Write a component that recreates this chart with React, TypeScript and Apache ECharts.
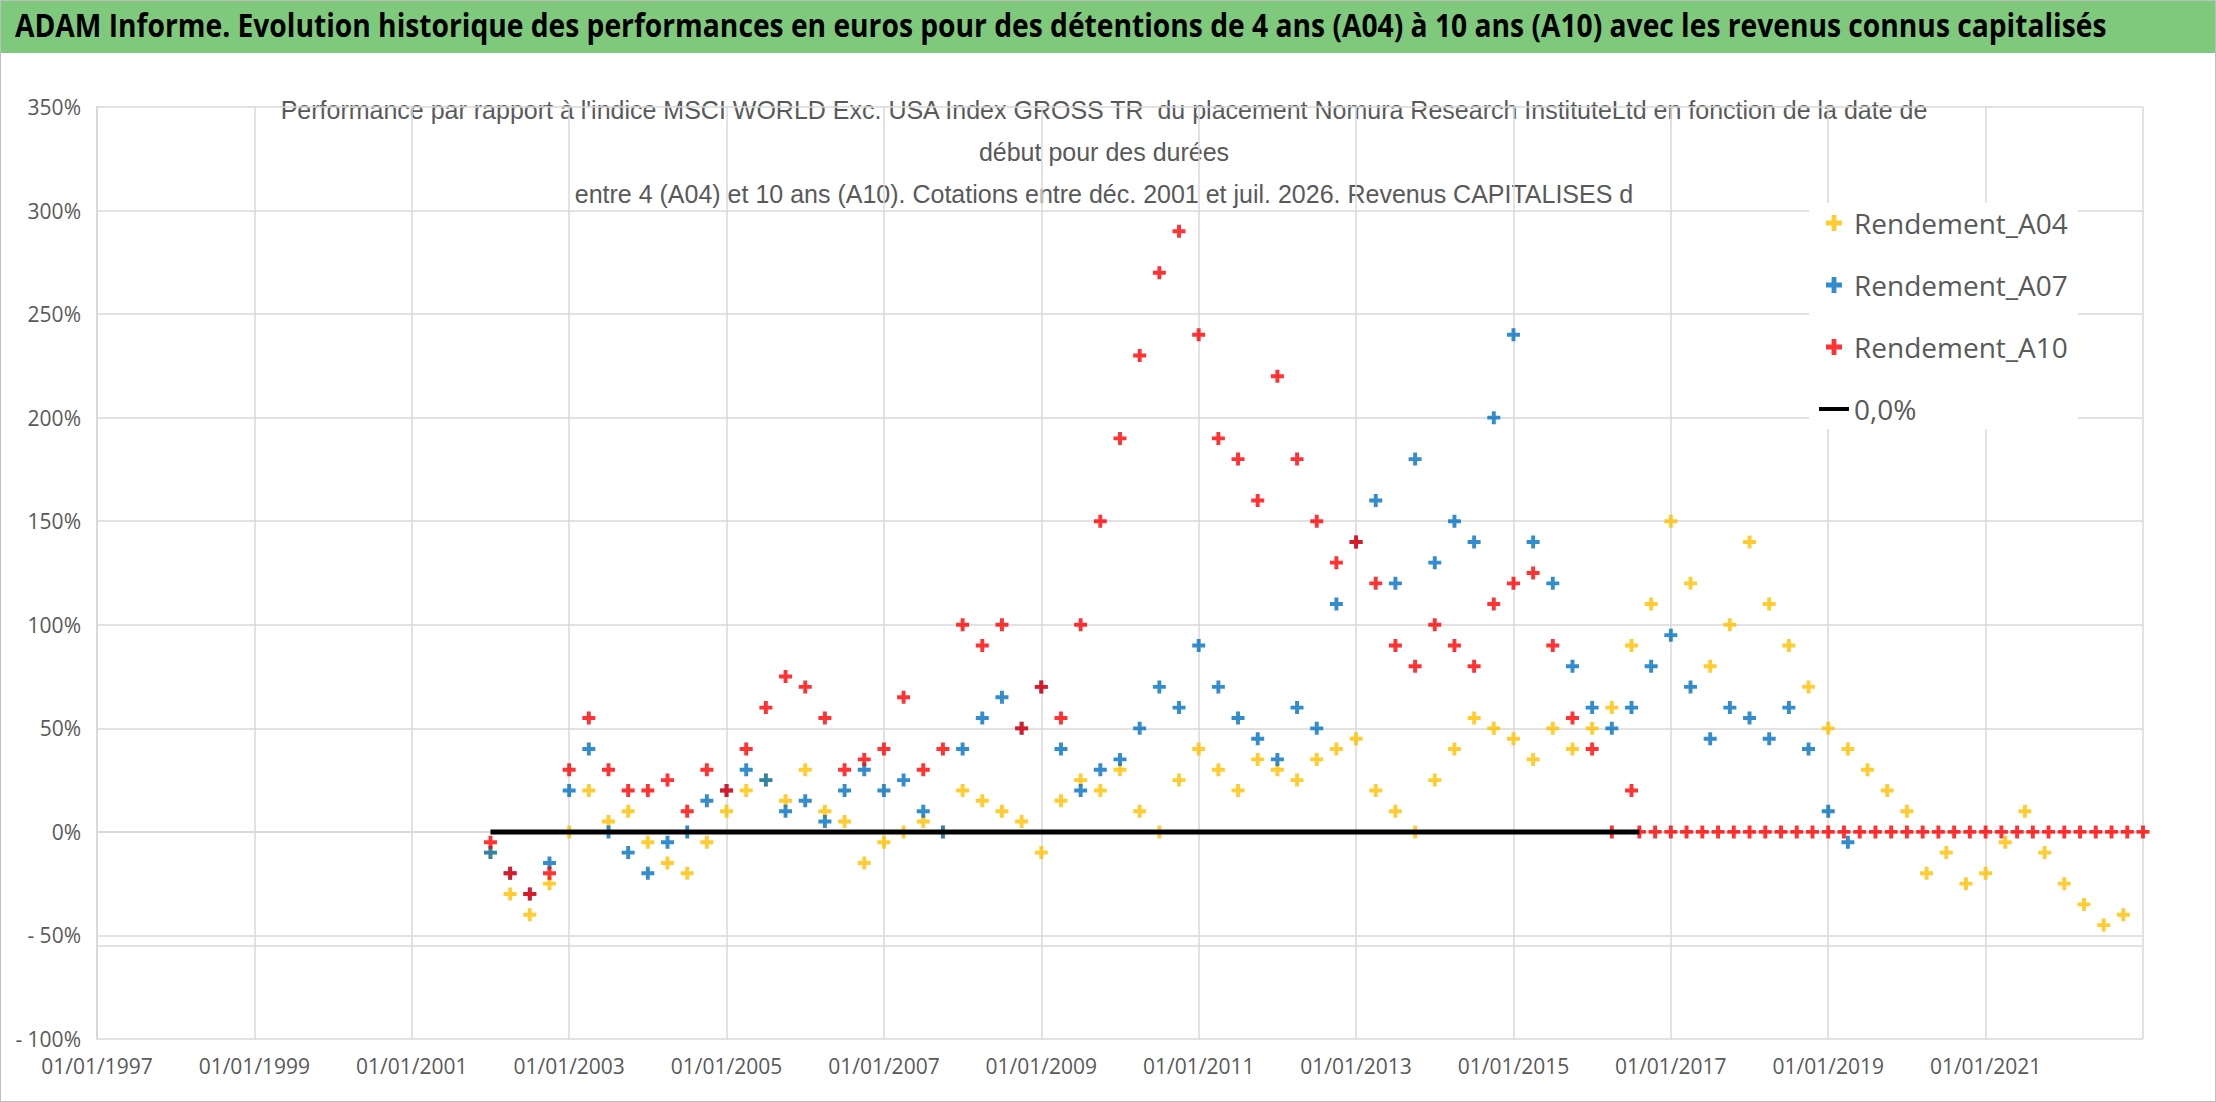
import { useEffect, useRef } from "react"
import * as echarts from "echarts"

// [year, perf %]
const a04: [number, number][] = [
  [2002.0, -10], [2002.25, -30], [2002.5, -40], [2002.75, -25], [2003.0, 0], [2003.25, 20], [2003.5, 5], [2003.75, 10],
  [2004.0, -5], [2004.25, -15], [2004.5, -20], [2004.75, -5], [2005.0, 10], [2005.25, 20], [2005.5, 25], [2005.75, 15],
  [2006.0, 30], [2006.25, 10], [2006.5, 5], [2006.75, -15], [2007.0, -5], [2007.25, 0], [2007.5, 5], [2007.75, 0],
  [2008.0, 20], [2008.25, 15], [2008.5, 10], [2008.75, 5], [2009.0, -10], [2009.25, 15], [2009.5, 25], [2009.75, 20],
  [2010.0, 30], [2010.25, 10], [2010.5, 0], [2010.75, 25], [2011.0, 40], [2011.25, 30], [2011.5, 20], [2011.75, 35],
  [2012.0, 30], [2012.25, 25], [2012.5, 35], [2012.75, 40], [2013.0, 45], [2013.25, 20], [2013.5, 10], [2013.75, 0],
  [2014.0, 25], [2014.25, 40], [2014.5, 55], [2014.75, 50], [2015.0, 45], [2015.25, 35], [2015.5, 50], [2015.75, 40],
  [2016.0, 50], [2016.25, 60], [2016.5, 90], [2016.75, 110], [2017.0, 150], [2017.25, 120], [2017.5, 80], [2017.75, 100],
  [2018.0, 140], [2018.25, 110], [2018.5, 90], [2018.75, 70], [2019.0, 50], [2019.25, 40], [2019.5, 30], [2019.75, 20],
  [2020.0, 10], [2020.25, -20], [2020.5, -10], [2020.75, -25], [2021.0, -20], [2021.25, -5], [2021.5, 10], [2021.75, -10],
  [2022.0, -25], [2022.25, -35], [2022.5, -45], [2022.75, -40],
]

const a07: [number, number][] = [
  [2002.0, -10], [2002.25, -20], [2002.5, -30], [2002.75, -15], [2003.0, 20], [2003.25, 40], [2003.5, 0], [2003.75, -10],
  [2004.0, -20], [2004.25, -5], [2004.5, 0], [2004.75, 15], [2005.0, 20], [2005.25, 30], [2005.5, 25], [2005.75, 10],
  [2006.0, 15], [2006.25, 5], [2006.5, 20], [2006.75, 30], [2007.0, 20], [2007.25, 25], [2007.5, 10], [2007.75, 0],
  [2008.0, 40], [2008.25, 55], [2008.5, 65], [2008.75, 50], [2009.0, 70], [2009.25, 40], [2009.5, 20], [2009.75, 30],
  [2010.0, 35], [2010.25, 50], [2010.5, 70], [2010.75, 60], [2011.0, 90], [2011.25, 70], [2011.5, 55], [2011.75, 45],
  [2012.0, 35], [2012.25, 60], [2012.5, 50], [2012.75, 110], [2013.0, 140], [2013.25, 160], [2013.5, 120], [2013.75, 180],
  [2014.0, 130], [2014.25, 150], [2014.5, 140], [2014.75, 200], [2015.0, 240], [2015.25, 140], [2015.5, 120], [2015.75, 80],
  [2016.0, 60], [2016.25, 50], [2016.5, 60], [2016.75, 80], [2017.0, 95], [2017.25, 70], [2017.5, 45], [2017.75, 60],
  [2018.0, 55], [2018.25, 45], [2018.5, 60], [2018.75, 40], [2019.0, 10], [2019.25, -5],
]

const a10: [number, number][] = [
  [2002.0, -5], [2002.25, -20], [2002.5, -30], [2002.75, -20], [2003.0, 30], [2003.25, 55], [2003.5, 30], [2003.75, 20],
  [2004.0, 20], [2004.25, 25], [2004.5, 10], [2004.75, 30], [2005.0, 20], [2005.25, 40], [2005.5, 60], [2005.75, 75],
  [2006.0, 70], [2006.25, 55], [2006.5, 30], [2006.75, 35], [2007.0, 40], [2007.25, 65], [2007.5, 30], [2007.75, 40],
  [2008.0, 100], [2008.25, 90], [2008.5, 100], [2008.75, 50], [2009.0, 70], [2009.25, 55], [2009.5, 100], [2009.75, 150],
  [2010.0, 190], [2010.25, 230], [2010.5, 270], [2010.75, 290], [2011.0, 240], [2011.25, 190], [2011.5, 180], [2011.75, 160],
  [2012.0, 220], [2012.25, 180], [2012.5, 150], [2012.75, 130], [2013.0, 140], [2013.25, 120], [2013.5, 90], [2013.75, 80],
  [2014.0, 100], [2014.25, 90], [2014.5, 80], [2014.75, 110], [2015.0, 120], [2015.25, 125], [2015.5, 90], [2015.75, 55],
  [2016.0, 40], [2016.25, 0], [2016.5, 20],
  [2016.6, 0], [2016.8, 0], [2017.0, 0], [2017.2, 0], [2017.4, 0], [2017.6, 0], [2017.8, 0], [2018.0, 0], [2018.2, 0],
  [2018.4, 0], [2018.6, 0], [2018.8, 0], [2019.0, 0], [2019.2, 0], [2019.4, 0], [2019.6, 0], [2019.8, 0], [2020.0, 0],
  [2020.2, 0], [2020.4, 0], [2020.6, 0], [2020.8, 0], [2021.0, 0], [2021.2, 0], [2021.4, 0], [2021.6, 0], [2021.8, 0],
  [2022.0, 0], [2022.2, 0], [2022.4, 0], [2022.6, 0], [2022.8, 0], [2023.0, 0],
]

const zeroLine: [number, number][] = [[2002.0, 0], [2016.6, 0]]

const BASE_YEAR = 1997
const PLUS = "path://M3.5,0H6.5V3.5H10V6.5H6.5V10H3.5V6.5H0V3.5H3.5Z"
const LINE_ICON = "path://M0,0H30V4H0Z"
const FONT = "'Open Sans', 'Liberation Sans', sans-serif"

const shift = (arr: [number, number][]) => arr.map(([x, y]) => [x - BASE_YEAR, y])

export default function App() {
  const ref = useRef<HTMLDivElement | null>(null)

  useEffect(() => {
    if (!ref.current) return
    const chart = echarts.init(ref.current, undefined, { renderer: "svg" })

    chart.setOption({
      animation: false,
      backgroundColor: "#fff",
      textStyle: { fontFamily: FONT },
      graphic: [
        { type: "rect", left: 0, top: 0, shape: { width: 2216, height: 52 }, style: { fill: "#7FC97D" } },
        {
          type: "text", x: 14, y: 7, scaleX: 0.855,
          style: {
            text: "ADAM Informe. Evolution historique des performances en euros pour des détentions de 4 ans (A04) à 10 ans (A10) avec les revenus connus capitalisés",
            font: `bold 33px ${FONT}`, fill: "#000",
          },
        },
        {
          type: "text", x: 1103, y: 88,
          style: {
            text: "Performance par rapport à l'indice MSCI WORLD Exc. USA Index GROSS TR  du placement Nomura Research InstituteLtd en fonction de la date de\ndébut pour des durées\nentre 4 (A04) et 10 ans (A10). Cotations entre déc. 2001 et juil. 2026. Revenus CAPITALISES d",
            font: `25px 'Liberation Sans', sans-serif`, fill: "#595959", align: "center", lineHeight: 42,
          },
        },
      ],
      grid: { left: 96, right: 72, top: 106, bottom: 62 },
      legend: {
        orient: "vertical", left: 1808, top: 202, itemGap: 34,
        backgroundColor: "#fff", padding: [6, 10],
        textStyle: { fontSize: 28, color: "#595959", fontFamily: FONT },
        itemWidth: 30, itemHeight: 16,
        data: [
          { name: "Rendement_A04", icon: PLUS },
          { name: "Rendement_A07", icon: PLUS },
          { name: "Rendement_A10", icon: PLUS },
          { name: "0,0%", icon: LINE_ICON, itemStyle: { color: "#000" } },
        ],
      },
      xAxis: {
        type: "value", min: 0, max: 26, interval: 2,
        axisLine: { show: true, lineStyle: { color: "#d9d9d9", width: 2 } },
        axisTick: { show: false },
        splitLine: { show: true, lineStyle: { color: "#d9d9d9", width: 1.5 } },
        axisLabel: { formatter: (v: number) => (v <= 24 ? `01/01/${BASE_YEAR + v}` : ""), fontSize: 21, color: "#595959", margin: 16 },
      },
      yAxis: {
        type: "value", min: -100, max: 350, interval: 50,
        axisLine: { show: true, lineStyle: { color: "#d9d9d9", width: 2 } },
        axisTick: { show: false },
        splitLine: { lineStyle: { color: "#d9d9d9", width: 1.5 } },
        axisLabel: { formatter: (v: number) => (v < 0 ? `- ${-v}%` : `${v}%`), fontSize: 21, color: "#595959", margin: 16 },
      },
      series: [
        {
          name: "Rendement_A04", type: "scatter", data: shift(a04), symbol: PLUS, symbolSize: 13,
          itemStyle: { color: "#FFC000" },
        },
        {
          name: "Rendement_A07", type: "scatter", data: shift(a07), symbol: PLUS, symbolSize: 13,
          itemStyle: { color: "#0070C0" },
        },
        {
          name: "Rendement_A10", type: "scatter", data: shift(a10), symbol: PLUS, symbolSize: 13,
          itemStyle: { color: "#FF0000" },
        },
        {
          name: "0,0%", type: "line", data: shift(zeroLine), symbol: "none",
          lineStyle: { color: "#000", width: 5 }, itemStyle: { color: "#000" },
          markLine: {
            silent: true, symbol: "none", label: { show: false },
            lineStyle: { color: "#d9d9d9", width: 1.5, type: "solid" },
            data: [{ yAxis: -55 }],
          },
        },
      ],
    })

    return () => chart.dispose()
  }, [])

  return (
    <div style={{ position: "fixed", left: 0, top: 0, width: 2216, height: 1102, border: "1px solid #bfbfbf", boxSizing: "border-box" }}>
      <div ref={ref} style={{ width: "100%", height: "100%" }} />
    </div>
  )
}
